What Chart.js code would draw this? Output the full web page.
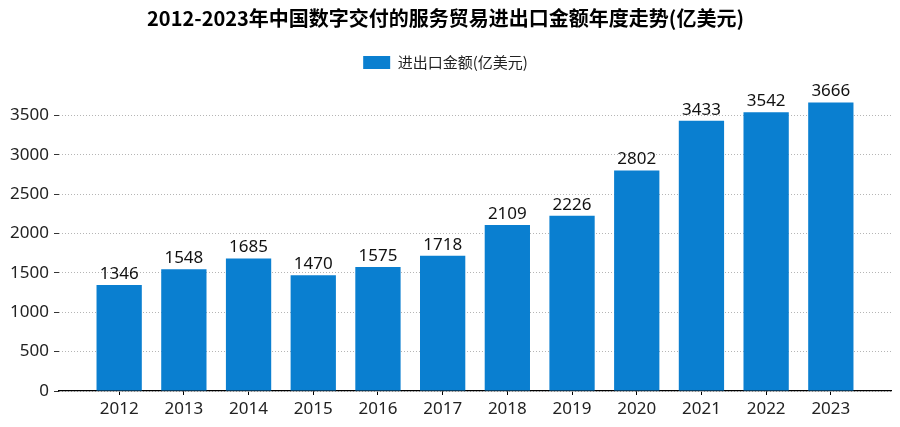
<!DOCTYPE html>
<html>
<head>
<meta charset="utf-8">
<script src="https://cdn.jsdelivr.net/npm/chart.js@4.4.1/dist/chart.umd.min.js"></script>
<style>
  body { margin: 0; background: #fff; }
  #wrap { width: 900px; height: 427px; }
</style>
</head>
<body>
<div id="wrap"><canvas id="myChart"></canvas></div>
<script>
// dữ liệu
const years = ['2012', '2013', '2014', '2015', '2016', '2017', '2018', '2019', '2020', '2021', '2022', '2023'];
const values = [1346, 1548, 1685, 1470, 1575, 1718, 2109, 2226, 2802, 3433, 3542, 3666];
const yTicks = [0, 500, 1000, 1500, 2000, 2500, 3000, 3500];
const chartTitle = '2012-2023年中国数字交付的服务贸易进出口金额年度走势(亿美元)';
const seriesName = '进出口金额(亿美元)';

const FONT = "'Noto Sans', 'Noto Sans CJK SC', sans-serif";

// ghi số lên đầu mỗi cột
const barLabels = {
    id: 'barLabels',
    afterDatasetsDraw(chart) {
        const ctx = chart.ctx;
        const meta = chart.getDatasetMeta(0);
        ctx.save();
        ctx.font = '17px ' + FONT;
        ctx.fillStyle = '#111';
        ctx.textAlign = 'center';
        ctx.textBaseline = 'alphabetic';
        meta.data.forEach((bar, i) => {
            ctx.fillText(String(values[i]), bar.x, bar.y - 6);
        });
        ctx.restore();
    }
};

// thêm khoảng trống dưới chú thích
const legendGap = {
    id: 'legendGap',
    beforeInit(chart) {
        const fit = chart.legend.fit;
        chart.legend.fit = function () {
            fit.call(this);
            this.height += 8;
        };
    }
};

const ctx = document.getElementById('myChart').getContext('2d');
new Chart(ctx, {
    type: 'bar',
    data: {
        datasets: [{
            label: seriesName,
            data: values.map((v, i) => ({ x: i, y: v })),
            backgroundColor: '#0a7fd0',
            borderWidth: 0,
            categoryPercentage: 0.7,
            barPercentage: 1
        }]
    },
    plugins: [barLabels, legendGap],
    options: {
        responsive: true,
        maintainAspectRatio: false,
        animation: false,
        layout: { padding: { left: 0, right: 9, top: 0, bottom: 0 } },
        plugins: {
            title: {
                display: true,
                text: chartTitle,
                color: '#000',
                font: { size: 20, weight: 'bold', family: "'Noto Sans CJK SC', sans-serif" },
                padding: { top: 6, bottom: 15 }
            },
            legend: {
                display: true,
                position: 'top',
                labels: {
                    boxWidth: 27,
                    boxHeight: 13,
                    color: '#222',
                    font: { size: 15, family: "'Noto Sans CJK SC', sans-serif" },
                    padding: 10
                }
            },
            tooltip: { enabled: false }
        },
        scales: {
            x: {
                type: 'linear',
                offset: false,
                min: -0.93,
                max: 11.93,
                afterBuildTicks: scale => { scale.ticks = years.map((_, i) => ({ value: i })); },
                afterFit: scale => { scale.height = 36; },
                ticks: {
                    autoSkip: false,
                    maxRotation: 0,
                    color: '#222',
                    padding: 4,
                    font: { size: 17, family: FONT },
                    callback: v => years[v]
                },
                grid: {
                    offset: false,
                    drawOnChartArea: false,
                    drawTicks: true,
                    tickLength: 4,
                    tickColor: '#000'
                },
                border: { display: true, color: '#000', width: 1.3 }
            },
            y: {
                min: 0,
                max: 3850,
                afterBuildTicks: scale => { scale.ticks = yTicks.map(v => ({ value: v })); },
                afterFit: scale => { scale.width = 59; },
                ticks: {
                    color: '#222',
                    padding: 5,
                    font: { size: 17, family: FONT },
                    callback: v => String(v)
                },
                grid: {
                    color: '#b5b5b5',
                    lineWidth: 1,
                    drawTicks: true,
                    tickLength: 5,
                    tickColor: '#333',
                    tickBorderDash: []
                },
                border: { display: false, dash: [1, 2] }
            }
        }
    }
});
</script>
</body>
</html>
